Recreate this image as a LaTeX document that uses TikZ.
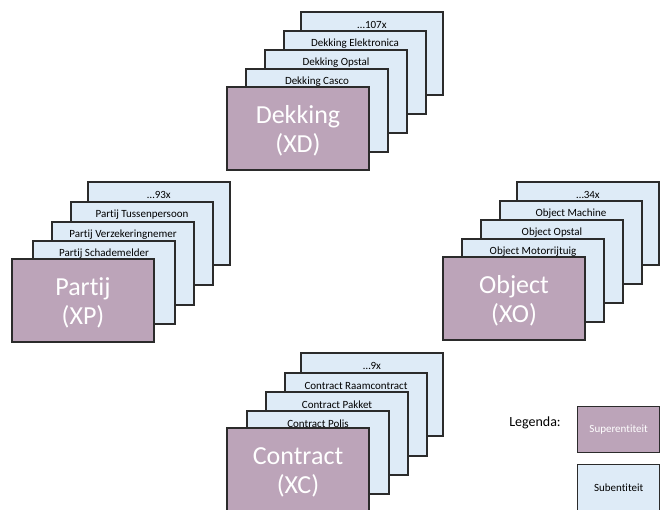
\documentclass[tikz,border=0pt]{standalone}
\usepackage{fontspec}
\setmainfont[Ligatures={NoCommon}]{Carlito}
\definecolor{superc}{HTML}{BCA4B9}
\definecolor{subc}{HTML}{DEEBF7}
\definecolor{edgec}{HTML}{2B2B2B}
\tikzset{
  box/.style={draw=edgec, line width=1.3pt, minimum width=142pt, minimum height=83pt,
    anchor=north west, inner sep=0pt, outer sep=0pt},
  subbox/.style={box, fill=subc},
  superbox/.style={box, fill=superc},
  supertext/.style={text=white, font=\fontsize{26}{29}\selectfont, align=center, inner sep=0pt},
  sublabel/.style={font=\fontsize{11}{13}\selectfont, text=black, inner sep=0pt},
  legbox/.style={draw=edgec, line width=1.3pt, minimum width=82pt, minimum height=46pt,
    anchor=north west, inner sep=0pt, font=\fontsize{11}{13}\selectfont}
}
\begin{document}
\begin{tikzpicture}[x=1pt,y=1pt]
\useasboundingbox (0,0) rectangle (663,-509);
\clip (0,0) rectangle (663,-509);
% Dekking
\node[subbox] (d4) at (301,-12) {};
\node[sublabel] (d4t) at ([yshift=-13pt]d4.north) {…107x};
\node[subbox] (d3) at (284,-31) {};
\node[sublabel] (d3t) at ([yshift=-13pt]d3.north) {Dekking Elektronica};
\node[subbox] (d2) at (265,-50) {};
\node[sublabel] (d2t) at ([yshift=-13pt]d2.north) {Dekking Opstal};
\node[subbox] (d1) at (246,-69) {};
\node[sublabel] (d1t) at ([yshift=-13pt]d1.north) {Dekking Casco};
\node[superbox] (d0) at (227,-87) {};
\node[supertext] (d0t) at ([yshift=-2.5pt]d0.center) {Dekking\\(XD)};
% Partij
\node[subbox] (p4) at (88,-182) {};
\node[sublabel] (p4t) at ([yshift=-13pt]p4.north) {…93x};
\node[subbox] (p3) at (71,-202) {};
\node[sublabel] (p3t) at ([yshift=-13pt]p3.north) {Partij Tussenpersoon};
\node[subbox] (p2) at (52,-222) {};
\node[sublabel] (p2t) at ([yshift=-13pt]p2.north) {Partij Verzekeringnemer};
\node[subbox] (p1) at (33,-241) {};
\node[sublabel] (p1t) at ([yshift=-13pt]p1.north) {Partij Schademelder};
\node[superbox] (p0) at (12,-259) {};
\node[supertext] (p0t) at ([yshift=-2.5pt]p0.center) {Partij\\(XP)};
% Object
\node[subbox] (o4) at (517,-182) {};
\node[sublabel] (o4t) at ([yshift=-13pt]o4.north) {…34x};
\node[subbox] (o3) at (500,-201) {};
\node[sublabel] (o3t) at ([yshift=-13pt]o3.north) {Object Machine};
\node[subbox] (o2) at (481,-220) {};
\node[sublabel] (o2t) at ([yshift=-13pt]o2.north) {Object Opstal};
\node[subbox] (o1) at (462,-239) {};
\node[sublabel] (o1t) at ([yshift=-13pt]o1.north) {Object Motorrijtuig};
\node[superbox] (o0) at (443,-257) {};
\node[supertext] (o0t) at ([yshift=-2.5pt]o0.center) {Object\\(XO)};
% Contract
\node[subbox] (c4) at (301,-353) {};
\node[sublabel] (c4t) at ([yshift=-13pt]c4.north) {…9x};
\node[subbox] (c3) at (285,-373) {};
\node[sublabel] (c3t) at ([yshift=-13pt]c3.north) {Contract Raamcontract};
\node[subbox] (c2) at (266,-392) {};
\node[sublabel] (c2t) at ([yshift=-13pt]c2.north) {Contract Pakket};
\node[subbox] (c1) at (247,-411) {};
\node[sublabel] (c1t) at ([yshift=-13pt]c1.north) {Contract Polis};
\node[superbox] (c0) at (227,-428) {};
\node[supertext] (c0t) at ([yshift=-2.5pt]c0.center) {Contract\\(XC)};
% Legend
\node[font=\fontsize{14}{16}\selectfont] (leg) at (535,-423) {Legenda:};
\node[legbox, fill=superc, text=white] (ls) at (577,-406) {Superentiteit};
\node[legbox, fill=subc, text=black] (lb) at (577,-464) {Subentiteit};
\end{tikzpicture}
\end{document}
